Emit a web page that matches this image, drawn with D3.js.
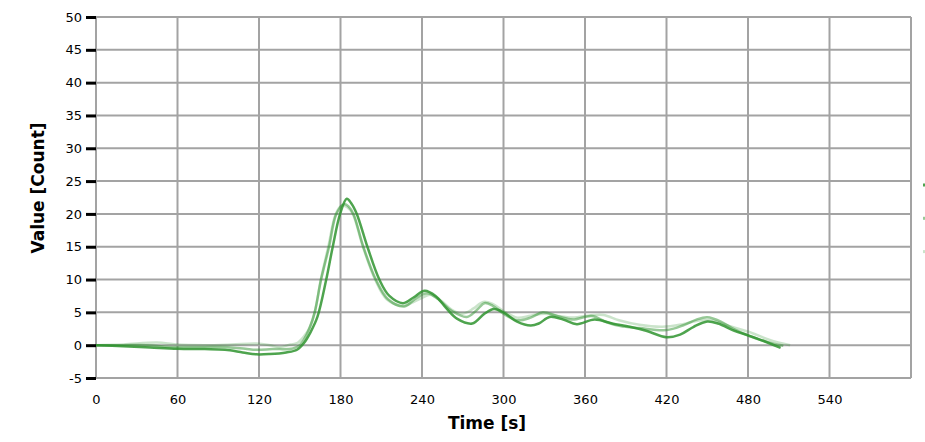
<!DOCTYPE html>
<html><head><meta charset="utf-8">
<script src="https://cdn.jsdelivr.net/npm/d3@7"></script>
<style>
html,body{margin:0;padding:0;background:#fff;overflow:hidden;}
svg{display:block;font-family:"DejaVu Sans",Verdana,sans-serif;}
</style></head>
<body>
<svg id="chart" width="925" height="442"></svg>
<script>
// ---- data ----
const xTicks = [0, 60, 120, 180, 240, 300, 360, 420, 480, 540];
const yTicks = [-5, 0, 5, 10, 15, 20, 25, 30, 35, 40, 45, 50];
const xTitle = "Time [s]";
const yTitle = "Value [Count]";
const seriesNames = ["Series 1", "Series 2", "Series 3"];
const seriesColors = ["#2f942f", "#2f942f", "#2f942f"];
const seriesOpacity = [0.85, 0.5, 0.25];

const aTimes  = [0,20,40,60,80,95,108,118,128,140,148,153,158,163,169.5,174.3,179.7,184.6,188,192,199.8,208.6,216,226,234,242,250,258,266,277,286,293,300,310,320,326,334,344,354,367,380,393,405,420,430,440,450,458,470,480,492,504];
const aValues = [0,-0.15,-0.35,-0.55,-0.6,-0.7,-1.1,-1.4,-1.35,-1.1,-0.7,0.3,2,4.3,10,15,20,22.3,21.6,20,15,10,7.5,6.4,7.3,8.3,7.5,5.6,4,3.3,4.8,5.5,5.0,3.6,3.0,3.3,4.3,3.9,3.2,3.9,3.3,2.8,2.2,1.2,1.6,2.8,3.6,3.3,2.2,1.5,0.6,-0.4];

const bTimes  = [0,20,37,59,80,97,110,118,130,145,150,153,157,161,165.7,171.6,177,183,186,189.5,196.8,206,215,227,236,244,252,262,273,280,286,292,300,310,320,329,340,351,365,376,386,400,420,432,442,450,460,470,481,494,506];
const bValues = [0,0,0,-0.3,-0.3,-0.3,-0.55,-0.7,-0.6,-0.5,0,0.8,2.5,5,10,15,20,21.5,21.1,20,15,10,7,5.9,7.2,7.9,7,5.2,4.3,5.3,6.4,6.0,4.8,3.8,4.2,5.0,4.4,3.9,4.45,3.5,2.9,2.6,2.3,3.0,3.9,4.25,3.6,2.4,1.4,0.5,-0.1];

const cTimes  = [0,20,45,59,80,100,118,128,135,143,148,153,157.6,161,165.5,171,176.5,181,185,189,196.5,205.5,214,226,234,240,246,254,262,270,278,285,292,300,310,320,330,342,352,362,373.5,385,400,417,432,445,455,468,481,496,511];
const cValues = [0,0.1,0.4,0.1,0,0.1,0.25,0,-0.3,0.1,0.3,1.3,2.8,5,10,15,20,21.3,21,20,15,10,7,6,6.6,7.2,7.7,6.8,5.4,4.8,5.6,6.6,6.3,5.2,4.2,4.5,4.8,4.4,4.2,4.5,4.6,3.8,3.1,2.8,3.2,3.8,3.7,2.8,2.0,0.8,0];

// ---- layout ----
const svg = d3.select("#chart");
const L = 96, R = 911, T = 17, B = 378;
const x = d3.scaleLinear().domain([0, 600]).range([L, R]);
const y = d3.scaleLinear().domain([-5, 50]).range([B, T]);

const grid = svg.append("g").attr("stroke", "#a3a3a3").attr("stroke-width", 2);
grid.selectAll("line.v").data(xTicks.concat([600])).join("line")
  .attr("x1", d => x(d)).attr("x2", d => x(d)).attr("y1", T).attr("y2", B);
grid.selectAll("line.h").data(yTicks).join("line")
  .attr("x1", L).attr("x2", R).attr("y1", d => y(d)).attr("y2", d => y(d));

// y axis
const yAxis = svg.append("g").attr("transform", `translate(${L},0)`)
  .call(d3.axisLeft(y).tickValues(yTicks).tickSize(10).tickPadding(4));
yAxis.select(".domain").remove();
yAxis.selectAll(".tick line").attr("stroke", "#000").attr("stroke-width", 3);
yAxis.selectAll(".tick text").attr("font-size", 13).attr("fill", "#000")
  .attr("font-family", "DejaVu Sans, Verdana, sans-serif")
  .text(d => d < 0 ? "-" + Math.abs(d) : d);

// x axis
const xAxis = svg.append("g").attr("transform", `translate(0,${B})`)
  .call(d3.axisBottom(x).tickValues(xTicks).tickSize(0).tickPadding(17));
xAxis.select(".domain").remove();
xAxis.selectAll(".tick text").attr("font-size", 13).attr("fill", "#000")
  .attr("font-family", "DejaVu Sans, Verdana, sans-serif");

// titles
svg.append("text").attr("x", 487).attr("y", 429).attr("text-anchor", "middle")
  .attr("font-size", 17).attr("font-weight", "bold").attr("fill", "#000").text(xTitle);
svg.append("text").attr("transform", "translate(44,188) rotate(-90)").attr("text-anchor", "middle")
  .attr("font-size", 17).attr("font-weight", "bold").attr("fill", "#000").text(yTitle);

// lines
const series = [
  {t: cTimes, v: cValues, i: 2},
  {t: bTimes, v: bValues, i: 1},
  {t: aTimes, v: aValues, i: 0}
];
const line = d3.line().x(d => x(d[0])).y(d => y(d[1])).curve(d3.curveCatmullRom.alpha(0.5));
svg.append("g").selectAll("path").data(series).join("path")
  .attr("d", s => line(s.t.map((t, k) => [t, s.v[k]])))
  .attr("fill", "none")
  .attr("stroke", s => seriesColors[s.i])
  .attr("stroke-opacity", s => seriesOpacity[s.i])
  .attr("stroke-width", 2.5)
  .attr("stroke-linejoin", "round");

// legend swatches (the legend sits mostly beyond the window's right edge)
svg.append("g").selectAll("rect").data(seriesNames).join("rect")
  .attr("x", 923).attr("y", (d, i) => 183.5 + i * 33.3)
  .attr("width", 8).attr("height", 3)
  .attr("fill", (d, i) => seriesColors[i]).attr("fill-opacity", (d, i) => seriesOpacity[i]);
</script>
</body></html>
